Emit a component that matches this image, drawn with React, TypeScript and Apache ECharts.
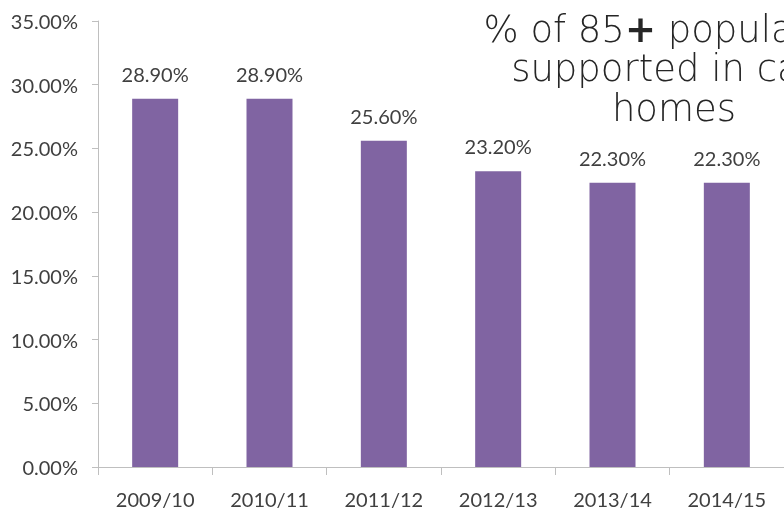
import React, { useEffect, useRef } from "react";
import * as echarts from "echarts";

const categories = ["2009/10", "2010/11", "2011/12", "2012/13", "2013/14", "2014/15"];
const values = [28.9, 28.9, 25.6, 23.2, 22.3, 22.3];
const titleLines = ["% of 85{p|+} population", "supported in care", "homes"];

export default function App() {
  const ref = useRef<HTMLDivElement>(null);
  useEffect(() => {
    if (!ref.current) return;
    const chart = echarts.init(ref.current, null, { renderer: "svg" });
    const titleFont = "DejaVu Sans";
    const titleSize = 37;
    chart.setOption({
      animation: false,
      grid: { left: 98, top: 21, bottom: 46, width: 688, containLabel: false },
      xAxis: {
        type: "category",
        data: categories,
        axisLine: { show: true, lineStyle: { color: "#BFBFBF", width: 1 } },
        axisTick: { show: true, length: 8, lineStyle: { color: "#BFBFBF" } },
        axisLabel: { color: "#404040", fontSize: 20, fontFamily: "Lato", margin: 22 },
      },
      yAxis: {
        type: "value",
        min: 0,
        max: 35,
        interval: 5,
        splitLine: { show: false },
        axisLine: { show: true, lineStyle: { color: "#BFBFBF", width: 1 } },
        axisTick: { show: true, length: 6, lineStyle: { color: "#BFBFBF" } },
        axisLabel: {
          color: "#404040",
          fontSize: 20,
          fontFamily: "Lato",
          margin: 20,
          formatter: (v: number) => v.toFixed(2) + "%",
        },
      },
      series: [
        {
          type: "bar",
          data: values,
          barWidth: 46,
          itemStyle: { color: "#8064A2" },
          label: {
            show: true,
            position: "top",
            distance: 15,
            color: "#404040",
            fontSize: 20,
            fontFamily: "Lato",
            formatter: (p: any) => p.value.toFixed(2) + "%",
          },
        },
      ],
      graphic: titleLines.map((t, i) => ({
        type: "text",
        x: 674,
        y: [29, 68, 108][i],
        style: {
          text: t,
          textAlign: "center",
          textVerticalAlign: "middle",
          fontSize: titleSize,
          fontFamily: titleFont,
          fontWeight: 200,
          fill: "#262626",
          rich: {
            p: { fontSize: titleSize, fontFamily: titleFont, fontWeight: "bold", fill: "#262626" },
          },
        },
      })),
    });
    return () => chart.dispose();
  }, []);
  return <div ref={ref} style={{ position: "fixed", left: 0, top: 0, width: 784, height: 513 }} />;
}
